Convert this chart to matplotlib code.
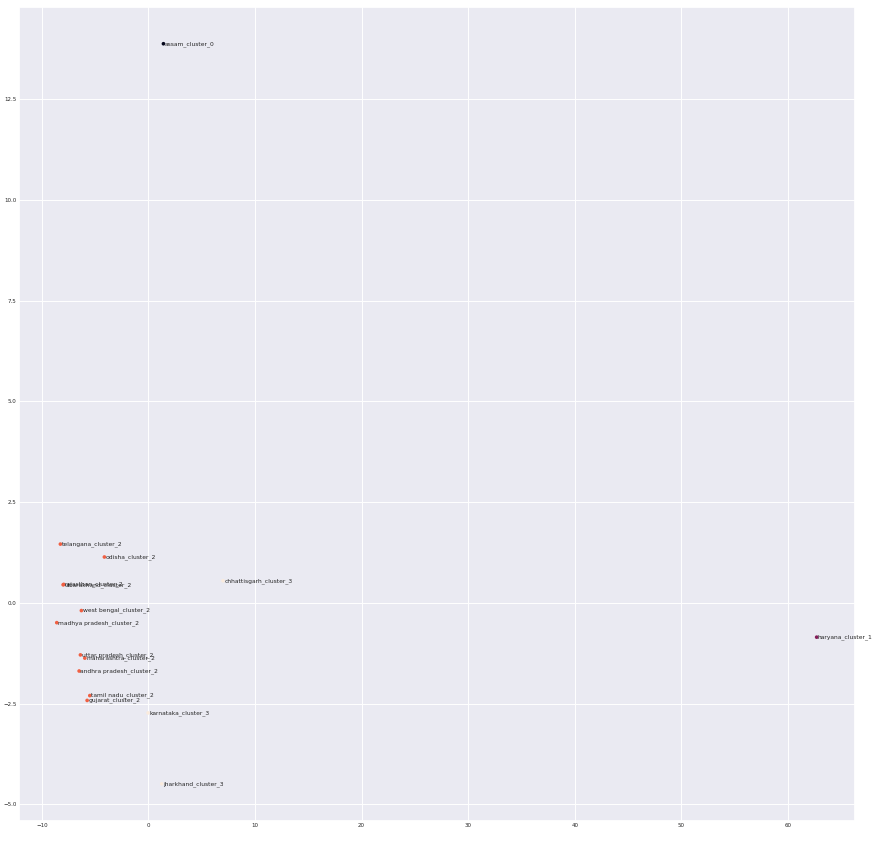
import matplotlib
matplotlib.use("Agg")
import matplotlib.pyplot as plt
import seaborn as sns
import numpy as np

sns.set_theme(style="darkgrid")
plt.rcParams['font.family'] = ['DejaVu Sans']

states = ["assam", "telangana", "odisha", "chhattisgarh", "uttarakhand", "rajasthan",
          "west bengal", "madhya pradesh", "uttar pradesh", "maharashtra",
          "andhra pradesh", "tamil nadu", "gujarat", "karnataka", "jharkhand", "haryana"]
clusters = [0, 2, 2, 3, 2, 2, 2, 2, 2, 2, 2, 2, 2, 3, 3, 1]
x_vals = [1.41, -8.26, -4.13, 7.0, -8.0, -7.95, -6.29, -8.6, -6.38, -5.97,
          -6.5, -5.5, -5.75, -0.03, 1.25, 62.7]
y_vals = [13.88, 1.46, 1.14, 0.55, 0.45, 0.46, -0.19, -0.49, -1.29, -1.37,
          -1.69, -2.30, -2.42, -2.73, -4.49, -0.85]

fig = plt.figure(figsize=(8.94, 8.41), dpi=100)
ax = fig.add_axes([0.021, 0.024, 0.935, 0.968])

cmap = sns.color_palette("rocket", as_cmap=True)
ax.scatter(x_vals, y_vals, c=clusters, cmap=cmap, vmin=0, vmax=3, s=7, linewidths=0)

for xv, yv, st, cl in zip(x_vals, y_vals, states, clusters):
    ax.text(xv + 0.12, yv + 0.02, f"{st}_cluster_{cl}", fontsize=4.3, color="#262626",
            va="center_baseline", ha="left")

ax.set_yticks([-5.0, -2.5, 0.0, 2.5, 5.0, 7.5, 10.0, 12.5])
ax.set_xticks([-10, 0, 10, 20, 30, 40, 50, 60])
ax.tick_params(labelsize=4.0, pad=1.5, length=0)
ax.grid(True, color="white", linewidth=0.7)

fig.savefig("out.png", dpi=100)
